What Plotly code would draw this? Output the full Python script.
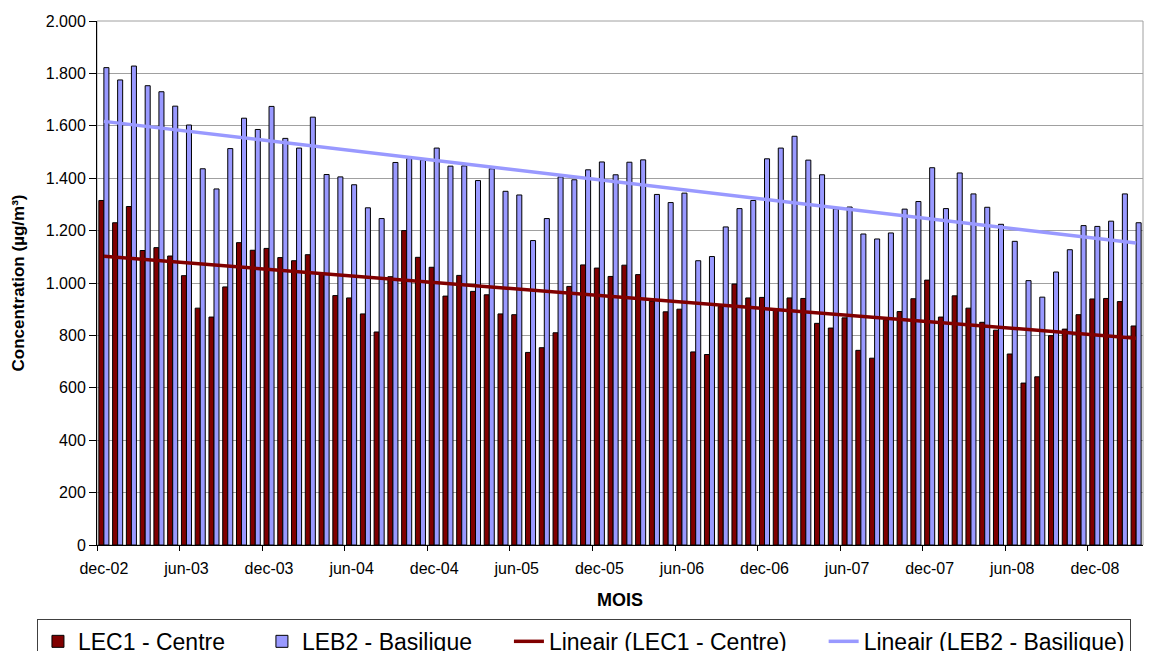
import numpy as np
import pandas as pd
import plotly.graph_objects as go

# ---- data ----
months = [d.strftime("%m-%y") for d in pd.date_range("2002-12-01", "2009-03-01", freq="MS")]
tick_labels = ["dec-02", "jun-03", "dec-03", "jun-04", "dec-04", "jun-05", "dec-05",
               "jun-06", "dec-06", "jun-07", "dec-07", "jun-08", "dec-08"]

lec1_centre = [1315, 1230, 1292, 1124, 1135, 1103, 1028, 904, 870, 985, 1154, 1125,
               1132, 1097, 1085, 1108, 1035, 952, 943, 882, 813, 1024, 1200, 1098,
               1060, 950, 1029, 968, 955, 882, 879, 735, 753, 810, 987, 1069,
               1057, 1025, 1068, 1032, 930, 890, 900, 737, 727, 910, 996, 943,
               945, 900, 943, 941, 846, 828, 867, 743, 713, 860, 891, 940,
               1011, 870, 951, 904, 850, 820, 729, 618, 642, 799, 824, 879,
               939, 941, 929, 836]

leb2_basilique = [1822, 1775, 1828, 1753, 1730, 1675, 1603, 1436, 1359, 1513, 1629, 1586,
                  1674, 1552, 1515, 1633, 1414, 1405, 1375, 1287, 1246, 1460, 1475, 1470,
                  1515, 1446, 1447, 1391, 1436, 1350, 1336, 1162, 1246, 1405, 1394, 1432,
                  1462, 1413, 1461, 1470, 1338, 1307, 1343, 1085, 1101, 1214, 1284, 1315,
                  1474, 1515, 1560, 1469, 1413, 1283, 1290, 1187, 1168, 1191, 1282, 1311,
                  1440, 1284, 1420, 1340, 1289, 1224, 1159, 1009, 946, 1042, 1127, 1219,
                  1216, 1236, 1340, 1230]

names = ["LEC1 - Centre", "LEB2 - Basilique",
         "Lineair (LEC1 - Centre)", "Lineair (LEB2 - Basilique)"]
colors = ["#800000", "#9999FF"]

x = np.arange(len(months))
tick_idx = [months.index(("12-" if t.startswith("dec") else "06-") + t[4:]) for t in tick_labels]

def trend(v):
    a, b = np.polyfit(x, np.asarray(v, float), 1)
    return a * x + b

FONT = "Liberation Sans, Arial, sans-serif"
PAD = "\u00a0" * 5  # extra spacing between legend entries (Excel-like)

fig = go.Figure()
fig.add_trace(go.Bar(x=x, y=lec1_centre, name=names[0] + PAD,
                     marker=dict(color=colors[0], line=dict(color="black", width=1))))
fig.add_trace(go.Bar(x=x, y=leb2_basilique, name=names[1] + PAD,
                     marker=dict(color=colors[1], line=dict(color="black", width=1))))
fig.add_trace(go.Scatter(x=x, y=trend(lec1_centre), mode="lines", name=names[2] + PAD,
                         line=dict(color=colors[0], width=3.5)))
fig.add_trace(go.Scatter(x=x, y=trend(leb2_basilique), mode="lines", name=names[3],
                         line=dict(color=colors[1], width=3.5)))

# page body has an 8px margin: figure is sized to fit the 1161x651 window
fig.update_layout(
    width=1153, height=643,
    margin=dict(l=89, r=18, t=13, b=106, autoexpand=False),
    paper_bgcolor="white", plot_bgcolor="white",
    barmode="group", bargap=0.27, bargroupgap=0,
    separators=",.",
    font=dict(family=FONT, color="black", size=16),
    showlegend=True,
    legend=dict(orientation="h", x=-0.0574, xanchor="left",
                y=-0.141, yanchor="top",
                bordercolor="#404040", borderwidth=1, font=dict(size=23),
                itemwidth=30, traceorder="normal"),
    shapes=[dict(type="rect", xref="paper", yref="paper", x0=0, x1=1, y0=0, y1=1,
                 line=dict(color="#A0A0A0", width=1), layer="below")],
)
fig.update_xaxes(
    range=[-0.5, len(months) - 0.5], tickmode="array", tickvals=tick_idx, ticktext=tick_labels,
    ticks="", showgrid=False, showline=True, linecolor="black", linewidth=1,
    tickfont=dict(size=16), zeroline=False, ticklabelstandoff=9,
    minor=dict(ticks="outside", ticklen=5, tickcolor="black", tick0=-0.5, dtick=6, showgrid=False),
    title=dict(text="<b>MOIS</b>", font=dict(size=18), standoff=17),
)
fig.update_yaxes(
    range=[0, 2000], dtick=200, tickformat=",d", ticks="outside", ticklen=7, tickcolor="black",
    showgrid=True, gridcolor="#A0A0A0", gridwidth=1, showline=True, linecolor="black", linewidth=1,
    zeroline=False, tickfont=dict(size=16),
    title=dict(text="<b>Concentration (µg/m³)</b>", font=dict(size=17), standoff=16),
)
fig.write_html("out.html")
